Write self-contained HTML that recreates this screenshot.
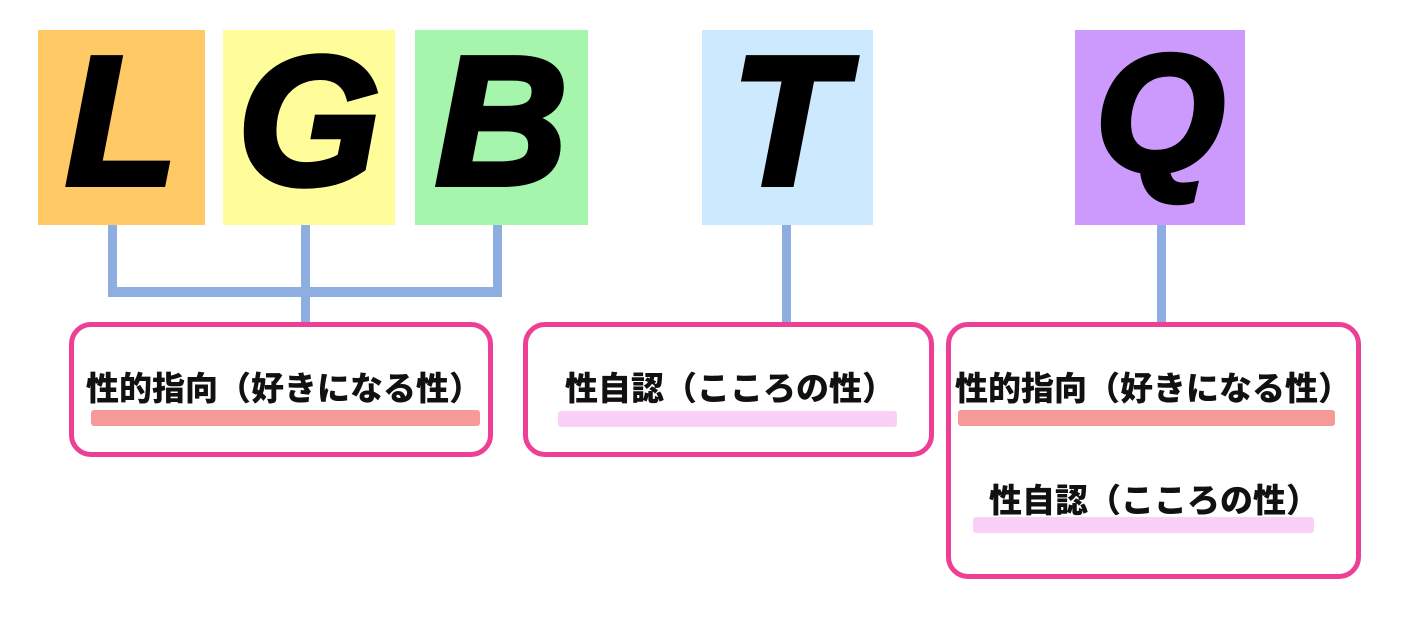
<!DOCTYPE html>
<html><head><meta charset="utf-8"><style>
body{margin:0;width:1404px;height:618px;background:#fff;position:relative;overflow:hidden;font-family:"Liberation Sans","Noto Sans CJK JP",sans-serif}
.b{position:absolute;top:30px;height:195px;overflow:hidden}
.L{position:absolute;top:-7px;width:100%;text-align:center;font:italic 900 183px/195px "Liberation Sans",sans-serif;color:#000;-webkit-text-stroke:6px #000}
.c{position:absolute;background:#8EADE0}
.r{position:absolute;border:5px solid #EE3F97;border-radius:22px;box-sizing:border-box}
.t{position:absolute;font:900 33px/36px "Noto Sans CJK JP",sans-serif;color:#111;white-space:nowrap}
.u{position:absolute;height:16px;border-radius:3px}
</style></head><body>
<div class="b" style="left:38px;width:167px;background:#FFC966"><div class="L">L</div></div>
<div class="b" style="left:223px;width:172px;background:#FFFD99"><div class="L">G</div></div>
<div class="b" style="left:415px;width:173px;background:#A5F5AC"><div class="L">B</div></div>
<div class="b" style="left:702px;width:171px;background:#CCE9FD"><div class="L">T</div></div>
<div class="b" style="left:1075px;width:170px;background:#CC9AFC"><div class="L" style="font-size:165px;top:-14px">Q</div></div>

<div class="c" style="left:108px;top:225px;width:9px;height:72px"></div>
<div class="c" style="left:301px;top:225px;width:9px;height:98px"></div>
<div class="c" style="left:493px;top:225px;width:9px;height:72px"></div>
<div class="c" style="left:108px;top:287px;width:394px;height:10px"></div>
<div class="c" style="left:782px;top:225px;width:9px;height:98px"></div>
<div class="c" style="left:1157px;top:225px;width:9px;height:98px"></div>

<div class="r" style="left:69px;top:322px;width:424px;height:135px"></div>
<div class="r" style="left:523px;top:322px;width:411px;height:135px"></div>
<div class="r" style="left:946px;top:322px;width:415px;height:257px"></div>

<div class="u" style="left:91px;top:410px;width:389px;background:#F59A98"></div>
<div class="t" style="left:86px;top:368px">性的指向（好きになる性）</div>
<div class="u" style="left:558px;top:411px;width:339px;background:#FBD0F7"></div>
<div class="t" style="left:565px;top:368px">性自認（こころの性）</div>
<div class="u" style="left:958px;top:410px;width:377px;background:#F59A98"></div>
<div class="t" style="left:955px;top:368px">性的指向（好きになる性）</div>
<div class="u" style="left:973px;top:517px;width:341px;background:#FBD0F7"></div>
<div class="t" style="left:989px;top:480px">性自認（こころの性）</div>
</body></html>
